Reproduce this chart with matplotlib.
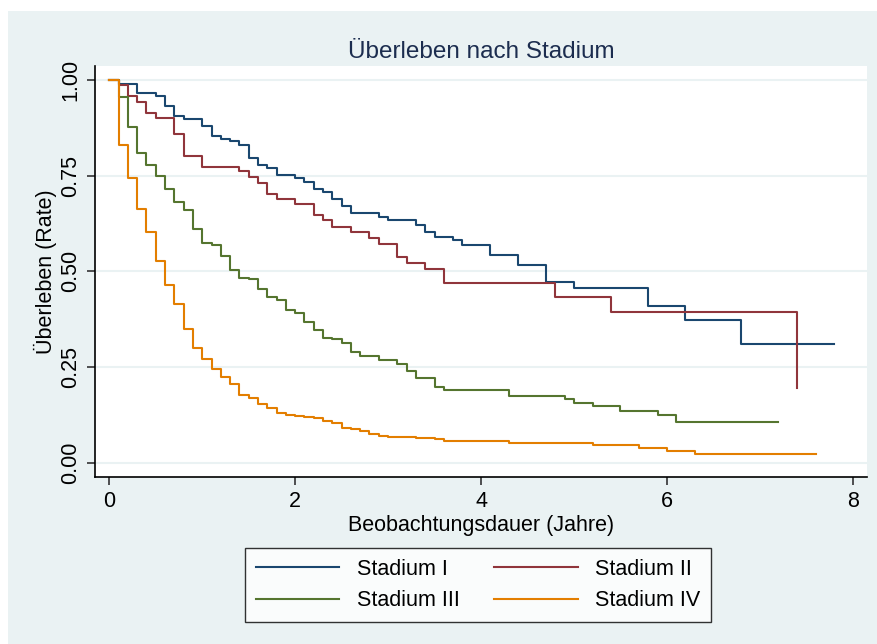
import matplotlib
matplotlib.use("Agg")
import matplotlib.pyplot as plt
from matplotlib.patches import Rectangle

plt.rcParams['font.family'] = ['Liberation Sans', 'DejaVu Sans']

# Kaplan-Meier steps (time in years, survival after the step)
t_1 = [0, 0.1, 0.3, 0.5, 0.6, 0.7, 0.8, 1.0, 1.1, 1.2, 1.3, 1.4, 1.5, 1.6, 1.7, 1.8,
       2.0, 2.1, 2.2, 2.3, 2.4, 2.5, 2.6, 2.9, 3.0, 3.3, 3.4, 3.5, 3.7, 3.8, 4.1,
       4.4, 4.7, 5.0, 5.8, 6.2, 6.8, 7.8]
s_1 = [1.0, 0.990, 0.966, 0.959, 0.932, 0.906, 0.898, 0.880, 0.855, 0.847, 0.840,
       0.829, 0.796, 0.779, 0.771, 0.753, 0.744, 0.733, 0.716, 0.707, 0.690, 0.671,
       0.652, 0.642, 0.633, 0.622, 0.602, 0.590, 0.581, 0.568, 0.542, 0.516, 0.473,
       0.456, 0.410, 0.373, 0.310, 0.310]

t_2 = [0, 0.1, 0.2, 0.3, 0.4, 0.5, 0.7, 0.8, 1.0, 1.4, 1.5, 1.6, 1.7, 1.8, 2.0, 2.2,
       2.3, 2.4, 2.6, 2.8, 2.9, 3.1, 3.2, 3.4, 3.6, 4.8, 5.4, 7.4]
s_2 = [1.0, 0.986, 0.959, 0.942, 0.915, 0.900, 0.859, 0.801, 0.774, 0.761, 0.747,
       0.731, 0.703, 0.690, 0.675, 0.647, 0.633, 0.617, 0.602, 0.586, 0.571, 0.538,
       0.522, 0.506, 0.469, 0.434, 0.395, 0.196]

t_3 = [0, 0.1, 0.2, 0.3, 0.4, 0.5, 0.6, 0.7, 0.8, 0.9, 1.0, 1.1, 1.2, 1.3, 1.4, 1.5,
       1.6, 1.7, 1.8, 1.9, 2.0, 2.1, 2.2, 2.3, 2.4, 2.5, 2.6, 2.7, 2.9, 3.1, 3.2,
       3.3, 3.5, 3.6, 4.3, 4.9, 5.0, 5.2, 5.5, 5.9, 6.1, 7.2]
s_3 = [1.0, 0.955, 0.876, 0.809, 0.779, 0.750, 0.715, 0.681, 0.660, 0.612, 0.574,
       0.568, 0.539, 0.503, 0.484, 0.479, 0.455, 0.434, 0.425, 0.399, 0.390, 0.368,
       0.347, 0.327, 0.323, 0.312, 0.290, 0.280, 0.269, 0.258, 0.239, 0.222, 0.197,
       0.190, 0.175, 0.166, 0.156, 0.147, 0.136, 0.124, 0.106, 0.106]

t_4 = [0, 0.1, 0.2, 0.3, 0.4, 0.5, 0.6, 0.7, 0.8, 0.9, 1.0, 1.1, 1.2, 1.3, 1.4, 1.5,
       1.6, 1.7, 1.8, 1.9, 2.0, 2.1, 2.2, 2.3, 2.4, 2.5, 2.6, 2.7, 2.8, 2.9, 3.0,
       3.3, 3.5, 3.6, 4.3, 5.2, 5.7, 6.0, 6.3, 7.6]
s_4 = [1.0, 0.831, 0.745, 0.663, 0.602, 0.527, 0.465, 0.414, 0.349, 0.300, 0.272,
       0.244, 0.223, 0.207, 0.178, 0.170, 0.153, 0.144, 0.130, 0.126, 0.123, 0.119,
       0.116, 0.109, 0.103, 0.092, 0.089, 0.084, 0.076, 0.070, 0.068, 0.064, 0.061,
       0.057, 0.052, 0.046, 0.039, 0.031, 0.024, 0.024]

labels = ['Stadium I', 'Stadium II', 'Stadium III', 'Stadium IV']
colors = ['#1a476f', '#90353b', '#55752f', '#e37e00']
bg = '#eaf2f3'

W, H = 877, 644
fig = plt.figure(figsize=(W / 100, H / 100), dpi=100, facecolor='white')
fig.patches.append(Rectangle((8 / W, 0), 1, 1 - 11 / H, transform=fig.transFigure,
                             facecolor=bg, edgecolor='none', zorder=-10))

ax = fig.add_axes([95 / W, 1 - 477.3 / H, (867 - 95) / W, (477.3 - 66) / H])
ax.set_facecolor('white')

lines = []
for t, s, c, lab in zip([t_1, t_2, t_3, t_4], [s_1, s_2, s_3, s_4], colors, labels):
    ln, = ax.step(t, s, where='post', color=c, lw=1.5, label=lab)
    lines.append(ln)

ax.set_xlim(-0.154, 8.154)
ax.set_ylim(-0.038, 1.0366)
ax.set_xticks([0, 2, 4, 6, 8])
ax.set_yticks([0, 0.25, 0.5, 0.75, 1.0])
ax.set_yticklabels(['0.00', '0.25', '0.50', '0.75', '1.00'], rotation=90, va='center')
ax.grid(axis='y', color=bg, lw=1.5)
ax.set_axisbelow(True)
for side in ['top', 'right']:
    ax.spines[side].set_visible(False)
for side in ['left', 'bottom']:
    ax.spines[side].set_linewidth(1.2)
ax.tick_params(direction='out', length=6, width=1.2, color='#333333', labelsize=15.5, pad=4)

ax.set_xlabel('Beobachtungsdauer (Jahre)', fontsize=15.5, labelpad=2)
ax.set_ylabel('Überleben (Rate)', fontsize=15.5, labelpad=2)
ax.set_title('Überleben nach Stadium', fontsize=17.5, color='#1c2d4f', pad=6)

# matplotlib fills legend columns first: reorder so rows read I, II / III, IV
order = [0, 2, 1, 3]
leg = fig.legend([lines[i] for i in order], [labels[i] for i in order],
                 loc='center', bbox_to_anchor=(478 / W, 1 - 585 / H), ncol=2,
                 fontsize=15.5, frameon=True, fancybox=False, edgecolor='black',
                 handlelength=3.9, handletextpad=0.8, columnspacing=1.6,
                 labelspacing=0.5, borderpad=0.5)
leg.get_frame().set_linewidth(1.0)
for line in leg.get_lines():
    line.set_linewidth(1.5)

fig.savefig('out.png', dpi=100, facecolor=fig.get_facecolor())
